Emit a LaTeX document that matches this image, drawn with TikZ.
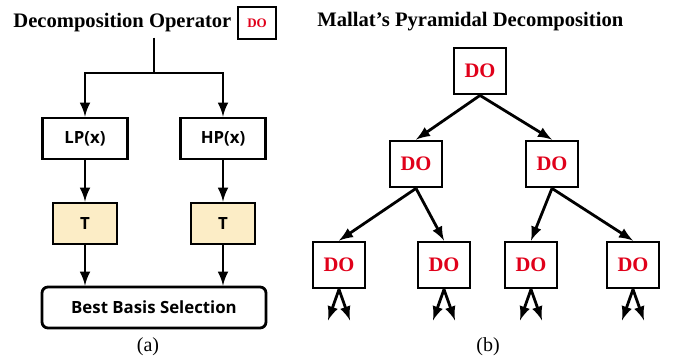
\documentclass[tikz,border=0pt]{standalone}
\usepackage{fontspec}
\setmainfont{Liberation Serif}
\newfontfamily\boxfont{Open Sans}
\usepackage{tikz}
\usetikzlibrary{positioning,arrows}
\definecolor{colordo}{HTML}{E0001A}
\definecolor{colort}{HTML}{FCEDC6}
\tikzset{
  title/.style={draw=none, inner sep=0pt, font=\bfseries\fontsize{10.3}{12}\selectfont},
  caption/.style={draw=none, inner sep=0pt, font=\fontsize{10}{12}\selectfont},
  opbox/.style={draw, line width=1.4pt, inner sep=0pt, minimum height=20.5pt,
    font=\boxfont\bfseries\fontsize{8.4}{10}\selectfont},
  tbox/.style={opbox, fill=colort, minimum width=32pt},
  dobox/.style={draw, line width=1.4pt, inner sep=0pt, minimum width=26pt,
    minimum height=23pt, text=colordo, font=\bfseries\fontsize{10.3}{12}\selectfont},
  dokey/.style={dobox, line width=1.2pt, minimum width=19pt, minimum height=16pt,
    font=\bfseries\fontsize{6.5}{8}\selectfont},
  edgeop/.style={black, line width=1.4pt, -latex},
  edgeline/.style={black, line width=1.4pt}
}

\begin{document}
\begin{tikzpicture}[x=0.5pt, y=-0.5pt]
\useasboundingbox (0,0) rectangle (676,358);

\node[title, anchor=west] (titlea) at (13,23) {Decomposition Operator};
\node[dokey] (key) at (257,23) {DO};

\coordinate (split) at (154,73);

\node[opbox, minimum width=42.5pt] (lp) at (85,138.5) {LP(x)};
\node[opbox, minimum width=42.5pt] (hp) at (223,138.5) {HP(x)};

\node[tbox] (tl) at (85,223.5) {T};
\node[tbox] (tr) at (223,223.5) {T};

\node[opbox, rounded corners=3pt, minimum width=112pt] (bbs) at (154,307.5)
{Best Basis Selection};

\node[caption] (capa) at (148,347) {(a)};

\draw[edgeline] (split |- titlea.south) ++(0,5) -- (split);
\draw[edgeop] (split) -| (lp);
\draw[edgeop] (split) -| (hp);
\draw[edgeop] (lp) -- (tl);
\draw[edgeop] (hp) -- (tr);
\draw[edgeop] (tl) -- (tl |- bbs.north);
\draw[edgeop] (tr) -- (tr |- bbs.north);

\node[title, anchor=west] (titleb) at (317,22) {Mallat’s Pyramidal Decomposition};

\node[dobox] (d0) at (480,71) {DO};

\node[dobox] (d1) at (416,164) {DO};
\node[dobox] (d2) at (552,164) {DO};

\node[dobox] (d11) at (339,265) {DO};
\node[dobox] (d12) at (444,265) {DO};
\node[dobox] (d21) at (531,265) {DO};
\node[dobox] (d22) at (633,265) {DO};

\node[caption] (capb) at (488,347) {(b)};

\draw[edgeop] (d0.south) -- (d1.north);
\draw[edgeop] (d0.south) -- (d2.north);
\draw[edgeop] (d1.south) -- (d11.north);
\draw[edgeop] (d1.south) -- (d12.north);
\draw[edgeop] (d2.south) -- (d21.north);
\draw[edgeop] (d2.south) -- (d22.north);

\foreach \n in {d11,d12,d21,d22}{
  \path (\n.south) ++(-11,31) coordinate (\n l) ++(22,0) coordinate (\n r);
  \draw[edgeop] (\n.south) -- (\n l);
  \draw[edgeop] (\n.south) -- (\n r);
}
\end{tikzpicture}
\end{document}
